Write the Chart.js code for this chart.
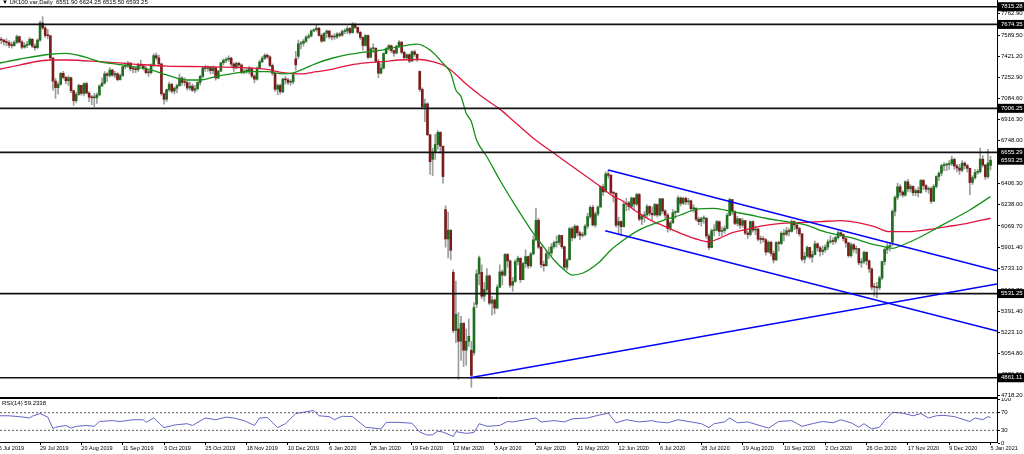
<!DOCTYPE html>
<html>
<head>
<meta charset="utf-8">
<script src="https://cdn.jsdelivr.net/npm/chart.js@4.4.1/dist/chart.umd.min.js"></script>
<style>
  body { margin: 0; background: #fff; }
  #wrap { position: relative; width: 1024px; height: 454px; overflow: hidden; font-family: "Liberation Sans", "DejaVu Sans", sans-serif; }
  canvas { position: absolute; left: 0; }
  #priceChart { top: 0; }
  #rsiChart { top: 398px; }
  .lbl { position: absolute; font-size: 6px; line-height: 7px; color: #000; white-space: pre; }
</style>
</head>
<body>
<div id="wrap">
  <canvas id="priceChart" width="1024" height="398"></canvas>
  <canvas id="rsiChart" width="1024" height="56"></canvas>
  <div class="lbl" style="left:2px;top:-1px">▼ UK100.var,Daily  6551.90 6624.25 6515.50 6593.25</div>
  <div class="lbl" style="left:2px;top:400px">RSI(14) 59.2338</div>
</div>
<script>
// x axis: one step per daily bar, labels every 16 bars
const dateBars = [0, 16, 32, 48, 64, 80, 96, 112, 128, 144, 160, 176, 192, 208, 224, 240, 256, 272, 288, 304, 320, 336, 352, 368, 384];
const dateLabels = ["6 Jul 2019", "29 Jul 2019", "20 Aug 2019", "11 Sep 2019", "3 Oct 2019", "25 Oct 2019", "18 Nov 2019",
  "10 Dec 2019", "6 Jan 2020", "28 Jan 2020", "19 Feb 2020", "12 Mar 2020", "3 Apr 2020", "29 Apr 2020", "21 May 2020",
  "12 Jun 2020", "6 Jul 2020", "28 Jul 2020", "19 Aug 2020", "10 Sep 2020", "2 Oct 2020", "26 Oct 2020", "17 Nov 2020",
  "9 Dec 2020", "5 Jan 2021"];

const priceTicks = [7762.90, 7589.50, 7421.20, 7252.90, 7084.60, 6916.30, 6748.00, 6579.70, 6406.30, 6238.00, 6069.70,
  5901.40, 5733.10, 5560.70, 5391.40, 5223.10, 5054.80, 4886.50, 4718.20];
const levels = [7815.28, 7674.35, 7006.25, 6655.29, 5531.25, 4861.11];
const lastPrice = 6593.25;

const opens = [
  7603,7553,7549,7536,7530,7509,7506,7531,7577,7535, 7493,7508,7514,7556,7501,7489,7549,7686,7646,7586,
  7584,7407,7223,7171,7198,7285,7253,7226,7250,7147, 7067,7117,7189,7125,7203,7128,7095,7090,7090,7114,
  7184,7207,7281,7268,7311,7271,7282,7235,7267,7338, 7345,7367,7321,7320,7314,7356,7345,7326,7291,7290,
  7351,7426,7408,7360,7122,7078,7155,7198,7143,7166, 7187,7247,7213,7212,7168,7183,7150,7163,7212,7260,
  7328,7324,7331,7306,7330,7248,7302,7369,7388,7396, 7406,7359,7328,7365,7351,7292,7303,7307,7323,7263,
  7238,7327,7376,7405,7429,7416,7347,7285,7158,7188, 7138,7240,7233,7213,7217,7400,7420,7519,7525,7541,
  7573,7582,7623,7632,7645,7587,7542,7604,7622,7576, 7574,7575,7598,7588,7618,7622,7642,7609,7675,7651,
  7611,7571,7507,7586,7412,7481,7484,7381,7286,7326, 7442,7483,7505,7466,7446,7500,7534,7452,7409,7433,
  7382,7457,7436,7300,7157,7018,7042,6796,6600,6654, 6718,6815,6705,6200,5966,6036,5700,5237,5250,5151,
  5295,5080,5151,5080,5060,5446,5688,5700,5510,5564, 5672,5455,5480,5416,5582,5704,5678,5843,5791,5598,
  5628,5787,5813,5642,5770,5826,5752,5847,5959,6115, 5901,5763,5753,5849,5854,5905,5936,5939,5994,5904,
  5741,5800,6048,5976,6067,6015,5994,6000,6068,6144, 6218,6077,6166,6220,6382,6341,6484,6473,6335,6329,
  6076,6105,6064,6243,6253,6224,6292,6244,6320,6124, 6147,6159,6225,6170,6158,6240,6157,6286,6189,6156,
  6049,6095,6176,6180,6293,6250,6290,6261,6270,6207, 6211,6123,6104,6129,6131,5990,5898,6032,6036,6104,
  6026,6032,6050,6154,6280,6185,6090,6127,6076,6112, 6013,6002,6104,6037,6045,5964,5963,5960,5862,5940,
  5851,5799,5937,5930,6012,6003,6032,6026,6105,6078, 6049,6007,5804,5829,5899,5822,5842,5927,5896,5866,
  5879,5902,5942,5949,5946,5978,6016,6001,5969,5935, 5833,5920,5884,5889,5776,5786,5860,5792,5728,5583,
  5582,5577,5655,5786,5883,5906,5940,6186,6297,6382, 6339,6316,6421,6365,6385,6334,6351,6334,6432,6391,
  6362,6367,6266,6384,6463,6490,6550,6555,6559,6565, 6599,6547,6531,6513,6570,6551,6529,6416,6454,6496,
  6502,6602,6555,6461,6551.90];
const highs = [
  7607,7571,7556,7560,7545,7535,7545,7590,7582,7545, 7530,7540,7570,7562,7520,7560,7700,7736,7660,7635,
  7590,7410,7245,7215,7290,7300,7260,7265,7255,7150, 7135,7200,7190,7210,7215,7140,7110,7125,7130,7195,
  7250,7300,7290,7330,7320,7300,7290,7280,7345,7370, 7380,7370,7340,7335,7365,7390,7350,7340,7310,7360,
  7440,7447,7430,7365,7130,7160,7215,7205,7175,7200, 7280,7260,7250,7230,7215,7200,7190,7220,7270,7340,
  7350,7345,7340,7345,7335,7310,7375,7400,7410,7425, 7415,7370,7375,7375,7360,7320,7325,7340,7330,7275,
  7335,7390,7420,7440,7440,7425,7360,7290,7200,7200, 7245,7260,7245,7235,7280,7460,7550,7540,7555,7585,
  7600,7630,7640,7670,7650,7600,7610,7630,7625,7590, 7600,7610,7610,7630,7640,7660,7650,7690,7686,7655,
  7620,7575,7595,7590,7490,7520,7490,7395,7360,7450, 7490,7515,7510,7470,7510,7545,7535,7460,7440,7440,
  7465,7470,7440,7305,7170,7080,7050,6800,6690,6800, 6830,6820,6705,6230,6180,6040,5720,5630,5380,5350,
  5300,5250,5330,5150,5460,5720,5830,5760,5620,5730, 5680,5510,5490,5600,5760,5720,5850,5850,5800,5660,
  5800,5830,5815,5780,5880,5830,5860,5990,6213,6130, 5910,5790,5880,5900,5930,5950,5990,6000,5995,5910,
  5810,6060,6060,6080,6075,6030,6020,6080,6170,6230, 6235,6180,6230,6390,6400,6500,6515,6480,6345,6335,
  6140,6110,6270,6290,6265,6300,6295,6330,6330,6165, 6185,6240,6230,6220,6250,6245,6290,6290,6200,6170,
  6110,6200,6190,6310,6300,6300,6300,6290,6275,6240, 6215,6140,6140,6150,6135,6005,6045,6080,6115,6110,
  6060,6070,6170,6290,6280,6190,6145,6130,6130,6115, 6030,6110,6110,6070,6050,5990,5985,5970,5950,5950,
  5870,5945,5950,6025,6040,6060,6050,6120,6110,6080, 6060,6010,5860,5910,5900,5870,5950,5935,5910,5910,
  5920,5960,5990,5975,5990,6030,6025,6010,5975,5940, 5935,5930,5910,5890,5810,5870,5865,5800,5735,5615,
  5620,5670,5790,5895,5930,5935,6200,6310,6410,6400, 6350,6430,6440,6400,6390,6365,6380,6440,6440,6400,
  6380,6380,6400,6470,6500,6560,6575,6570,6590,6625, 6610,6560,6560,6590,6580,6560,6530,6470,6520,6520,
  6690,6630,6560,6680,6624.25];
const lows = [
  7540,7520,7510,7505,7490,7485,7500,7522,7525,7480, 7485,7490,7508,7490,7470,7480,7540,7635,7570,7560,
  7390,7150,7085,7120,7190,7240,7200,7190,7130,7030, 7050,7110,7110,7105,7120,7060,7035,7020,7045,7105,
  7180,7200,7220,7255,7260,7250,7225,7230,7260,7320, 7330,7305,7290,7290,7300,7340,7310,7280,7260,7280,
  7340,7390,7340,7110,7040,7060,7140,7130,7120,7130, 7180,7190,7185,7150,7150,7140,7130,7150,7190,7250,
  7300,7300,7280,7280,7230,7240,7300,7350,7370,7380, 7340,7300,7320,7335,7280,7280,7285,7280,7250,7210,
  7230,7320,7370,7395,7400,7335,7270,7140,7115,7120, 7130,7200,7195,7190,7200,7310,7400,7480,7500,7530,
  7560,7575,7615,7620,7580,7530,7540,7570,7560,7550, 7555,7560,7575,7580,7600,7600,7595,7605,7640,7600,
  7555,7470,7500,7400,7412,7450,7370,7250,7280,7320, 7440,7470,7450,7420,7440,7490,7440,7400,7400,7370,
  7380,7420,7380,7140,7000,6900,6790,6480,6470,6600, 6680,6650,6410,5900,5815,5800,5220,5140,4850,5000,
  4950,4960,5110,4785,5040,5420,5600,5490,5470,5530, 5440,5360,5370,5410,5580,5600,5670,5740,5580,5550,
  5620,5760,5620,5640,5740,5730,5740,5840,5950,5890, 5740,5710,5750,5810,5830,5890,5900,5920,5890,5720,
  5720,5800,5950,5970,5990,5960,5980,5990,6050,6130, 6070,6060,6150,6220,6310,6340,6450,6320,6260,6060,
  6000,5990,6060,6190,6195,6215,6200,6230,6110,6080, 6100,6140,6150,6120,6150,6140,6150,6170,6120,6020,
  6030,6090,6130,6175,6230,6240,6240,6240,6190,6180, 6110,6080,6070,6090,5970,5880,5895,5990,6030,5990,
  5990,6010,6045,6150,6160,6080,6070,6050,6060,6000, 5970,5990,6020,6000,5950,5930,5940,5840,5860,5830,
  5775,5795,5870,5920,5950,5990,5990,6020,6040,6010, 5990,5790,5775,5820,5810,5780,5840,5870,5830,5840,
  5860,5880,5930,5920,5930,5965,5985,5950,5900,5820, 5820,5860,5850,5760,5740,5770,5760,5700,5560,5510,
  5497,5560,5640,5760,5850,5870,5910,6150,6280,6310, 6300,6305,6340,6340,6310,6310,6300,6330,6360,6340,
  6330,6250,6265,6370,6430,6470,6510,6510,6520,6550, 6520,6500,6480,6500,6525,6500,6316,6400,6440,6480,
  6490,6540,6440,6450,6515.50];
const closes = [
  7553,7549,7536,7530,7509,7506,7531,7577,7535,7493, 7508,7514,7556,7501,7489,7549,7686,7646,7586,7584,
  7407,7223,7171,7198,7285,7253,7226,7250,7147,7067, 7117,7189,7125,7203,7128,7095,7090,7090,7114,7184,
  7207,7281,7268,7311,7271,7282,7235,7267,7338,7345, 7367,7321,7320,7314,7356,7345,7326,7291,7290,7351,
  7426,7408,7360,7122,7078,7155,7198,7143,7166,7187, 7247,7213,7212,7168,7183,7150,7163,7212,7260,7328,
  7324,7331,7306,7330,7248,7302,7369,7388,7396,7406, 7359,7328,7365,7351,7292,7303,7307,7323,7263,7238,
  7327,7376,7405,7429,7416,7347,7285,7158,7188,7138, 7240,7233,7213,7217,7273,7353,7519,7525,7541,7573,
  7582,7623,7632,7645,7587,7542,7604,7622,7576,7574, 7575,7598,7588,7618,7622,7642,7609,7675,7651,7611,
  7571,7507,7586,7412,7481,7484,7381,7286,7326,7442, 7483,7505,7466,7446,7500,7534,7452,7409,7433,7382,
  7457,7436,7404,7157,7018,7042,6796,6581,6654,6718, 6815,6705,6463,5966,6036,5876,5237,5366,5151,5295,
  5080,5151,5191,4880,5420,5688,5816,5510,5564,5672, 5455,5480,5416,5582,5704,5678,5843,5791,5598,5628,
  5787,5813,5642,5770,5826,5752,5847,5959,6115,5901, 5763,5753,5849,5854,5905,5936,5939,5994,5904,5741,
  5800,6048,5976,6067,6015,5994,6000,6068,6144,6218, 6077,6166,6220,6382,6341,6484,6473,6335,6329,6076,
  6105,6064,6243,6253,6224,6292,6244,6320,6124,6147, 6159,6225,6170,6158,6240,6157,6286,6189,6156,6049,
  6095,6176,6180,6293,6250,6290,6261,6270,6207,6211, 6123,6104,6129,6131,5990,5898,6032,6036,6104,6026,
  6032,6050,6154,6280,6185,6090,6127,6076,6112,6013, 6002,6104,6037,6045,5964,5963,5960,5862,5940,5851,
  5799,5937,5930,6012,6003,6032,6026,6105,6078,6049, 6007,5804,5829,5899,5822,5842,5927,5896,5866,5879,
  5902,5942,5949,5946,5978,6016,6001,5969,5935,5833, 5920,5884,5889,5776,5786,5860,5792,5728,5583,5582,
  5577,5655,5786,5883,5906,5910,6186,6297,6382,6339, 6316,6421,6365,6385,6334,6351,6334,6432,6391,6362,
  6367,6266,6384,6463,6490,6550,6555,6559,6565,6599, 6547,6531,6513,6570,6551,6529,6416,6454,6496,6502,
  6602,6555,6461,6571,6593.25];

// moving averages (bar index, price)
const greenMaBars = [0,8,20,26,33,39,46,52,59,65,73,78,85,91,97,104,110,114,123,129,136,143,149,155,162,167,172,175,177,
  179,181,183,185,189,194,201,207,210,215,219,222,226,232,237,241,248,256,264,270,277,284,291,297,305,313,318,325,331,337,
  344,346,350,357,363,370,376,384];
const greenMaValues = [7365,7397,7437,7444,7417,7378,7357,7338,7312,7272,7232,7232,7264,7285,7298,7298,7280,7288,7365,7405,
  7437,7457,7471,7497,7518,7471,7365,7285,7152,7099,6967,6900,6754,6621,6436,6200,6011,5930,5799,5719,5679,5693,5772,5878,
  5944,6038,6104,6157,6202,6210,6183,6157,6131,6104,6075,6035,5998,5971,5932,5900,5892,5918,5984,6051,6129,6197,6303];
const redMaBars = [0,8,20,26,39,52,65,78,91,104,110,117,123,129,136,143,149,155,163,168,172,175,181,187,194,198,207,215,224,
  233,238,241,246,252,258,264,271,275,279,284,290,295,303,310,318,326,334,339,345,352,359,367,375,384];
const redMaValues = [7317,7351,7391,7391,7378,7359,7343,7338,7333,7317,7290,7280,7298,7317,7351,7370,7378,7391,7395,7378,7351,
  7312,7200,7100,7000,6930,6768,6648,6515,6382,6303,6276,6197,6120,6065,6011,5960,5944,5971,6016,6043,6069,6091,6096,6104,
  6112,6091,6064,6024,6024,6038,6064,6091,6131];

// trend lines drawn on the chart: [bar, price] end points
const upperChannel = [[236, 6515], [386.5, 5713]];
const lowerChannel = [[234.8, 6032], [386.5, 5233]];
const supportLine = [[182.5, 4861], [386.5, 5608]];

// RSI(14)
const rsiBars = [0,4,8,12,13,16,19,21,22,26,28,30,34,37,39,44,47,52,56,57,60,64,68,73,75,80,84,88,91,95,99,101,104,108,111,
  115,122,124,128,130,133,137,142,148,150,155,160,163,166,168,170,172,176,177,181,184,186,189,194,197,199,208,210,215,219,
  222,228,232,236,239,243,248,253,255,259,263,268,272,275,277,281,283,286,290,294,298,302,307,311,315,319,323,326,330,333,
  335,338,341,343,346,350,354,357,360,363,366,370,376,378,381,383,384];
const rsiValues = [63,63,61,58,62,68,60,34,37,41,35,39,41,39,50,52,50,54,54,48,58,36,42,45,41,58,54,60,58,52,41,58,59,36,45,
  68,75,63,61,54,62,61,37,33,48,48,46,26,19,20,28,26,16,27,23,25,45,39,41,50,49,58,49,52,49,
  56,58,64,69,47,54,49,52,49,47,54,49,45,36,45,49,58,47,49,42,35,50,52,39,45,50,47,54,47,37,
  45,33,37,52,71,69,63,68,58,63,64,61,50,58,54,61,59.2338];
const rsiLevels = [70, 30];
const rsiTicks = [100, 70, 30, 0];

const X_MIN = 0.5, X_MAX = 386.5;
const FONT = "Liberation Sans";

function pairs(xs, ys) {
  return xs.map((x, i) => ({ x: x, y: ys[i] }));
}
function flatLine(v) {
  return [{ x: X_MIN, y: v }, { x: X_MAX, y: v }];
}
function lineData(pts) {
  return pts.map(p => ({ x: p[0], y: p[1] }));
}

const wicks = highs.map((h, i) => ({ x: i, y: [lows[i], h] }));
const bodies = opens.map((o, i) => ({ x: i, y: [o, closes[i]] }));
const bodyColors = opens.map((o, i) => (closes[i] >= o ? "#1f6e1f" : "#7a1c1c"));

// black price tags on the right axis
const priceTags = {
  id: "priceTags",
  afterDraw(chart) {
    const { ctx, chartArea, scales } = chart;
    const y = scales.y;
    ctx.save();
    ctx.font = "6px '" + FONT + "'";
    ctx.textBaseline = "middle";
    [...levels, lastPrice].forEach(v => {
      const py = y.getPixelForValue(v);
      ctx.fillStyle = "#000";
      ctx.fillRect(chartArea.right + 1, py - 4.5, chart.width - chartArea.right - 1, 9);
      ctx.fillStyle = "#fff";
      ctx.fillText(v.toFixed(2), chartArea.right + 4, py);
    });
    // bottom frame of the price window
    ctx.strokeStyle = "#000";
    ctx.lineWidth = 1;
    ctx.beginPath();
    ctx.moveTo(chartArea.left, chartArea.bottom - 0.5);
    ctx.lineTo(chartArea.right, chartArea.bottom - 0.5);
    ctx.stroke();
    ctx.restore();
  }
};

const rsiFrame = {
  id: "rsiFrame",
  afterDraw(chart) {
    const { ctx, chartArea } = chart;
    ctx.save();
    ctx.strokeStyle = "#000";
    ctx.lineWidth = 1;
    ctx.beginPath();
    ctx.moveTo(chartArea.left, chartArea.top + 0.5);
    ctx.lineTo(chartArea.right, chartArea.top + 0.5);
    ctx.stroke();
    ctx.restore();
  }
};

function noPad(s) {
  s.paddingTop = 0; s.paddingBottom = 0; s.paddingLeft = 0; s.paddingRight = 0;
}

const lineBase = { type: "line", pointRadius: 0, fill: false };

new Chart(document.getElementById("priceChart"), {
  type: "bar",
  data: {
    datasets: [
      { type: "bar", data: wicks, backgroundColor: "#9c9c9c", barThickness: 1, grouped: false, order: 6 },
      { type: "bar", data: bodies, backgroundColor: bodyColors, barThickness: 2, minBarLength: 1, grouped: false, order: 5 },
      { ...lineBase, data: pairs(redMaBars, redMaValues), borderColor: "#e0163e", borderWidth: 1.3, tension: 0.4, cubicInterpolationMode: "monotone", order: 4 },
      { ...lineBase, data: pairs(greenMaBars, greenMaValues), borderColor: "#15911a", borderWidth: 1.3, tension: 0.4, cubicInterpolationMode: "monotone", order: 3 },
      ...levels.map(v => ({ ...lineBase, data: flatLine(v), borderColor: "#111", borderWidth: 1.6, order: 2 })),
      { ...lineBase, data: lineData(upperChannel), borderColor: "#0000ff", borderWidth: 1.5, order: 1 },
      { ...lineBase, data: lineData(lowerChannel), borderColor: "#0000ff", borderWidth: 1.5, order: 1 },
      { ...lineBase, data: lineData(supportLine), borderColor: "#0000ff", borderWidth: 1.5, order: 1 }
    ]
  },
  options: {
    responsive: false,
    animation: false,
    devicePixelRatio: 1,
    layout: { padding: 0 },
    plugins: { legend: { display: false }, tooltip: { enabled: false } },
    scales: {
      x: { type: "linear", min: X_MIN, max: X_MAX, display: false, offset: false, grid: { offset: false } },
      y: {
        type: "linear", position: "right", min: 4699.9, max: 7868.8,
        afterBuildTicks: s => { s.ticks = priceTicks.map(v => ({ value: v })); },
        afterFit: s => { s.width = 27; noPad(s); },
        ticks: { font: { family: FONT, size: 6 }, color: "#000", padding: 1, autoSkip: false, callback: v => v.toFixed(2) },
        grid: { drawOnChartArea: false, drawTicks: true, tickLength: 3, color: "#000" },
        border: { display: true, color: "#000", width: 1 }
      }
    }
  },
  plugins: [priceTags]
});

new Chart(document.getElementById("rsiChart"), {
  type: "line",
  data: {
    datasets: [
      ...rsiLevels.map(v => ({ ...lineBase, data: flatLine(v), borderColor: "#555", borderWidth: 1, borderDash: [2, 2] })),
      { ...lineBase, data: pairs(rsiBars, rsiValues), borderColor: "#6464c8", borderWidth: 1, tension: 0 }
    ]
  },
  options: {
    responsive: false,
    animation: false,
    devicePixelRatio: 1,
    layout: { padding: 0 },
    plugins: { legend: { display: false }, tooltip: { enabled: false } },
    scales: {
      x: {
        type: "linear", min: X_MIN, max: X_MAX, position: "bottom",
        afterBuildTicks: s => { s.ticks = dateBars.map(v => ({ value: v })); },
        afterFit: s => { s.height = 12; noPad(s); },
        ticks: {
          font: { family: FONT, size: 5.5 }, color: "#000", padding: 0, autoSkip: false, maxRotation: 0, align: "start",
          callback: (v, i) => dateLabels[i]
        },
        grid: { drawOnChartArea: false, drawTicks: true, tickLength: 3, color: "#000" },
        border: { display: true, color: "#000", width: 1 }
      },
      y: {
        type: "linear", position: "right", min: 3.4, max: 103.4,
        afterBuildTicks: s => { s.ticks = rsiTicks.map(v => ({ value: v })); },
        afterFit: s => { s.width = 27; noPad(s); },
        ticks: { font: { family: FONT, size: 6 }, color: "#000", padding: 1, autoSkip: false, callback: v => String(v) },
        grid: { drawOnChartArea: false, drawTicks: true, tickLength: 3, color: "#000" },
        border: { display: true, color: "#000", width: 1 }
      }
    }
  },
  plugins: [rsiFrame]
});
</script>
</body>
</html>
